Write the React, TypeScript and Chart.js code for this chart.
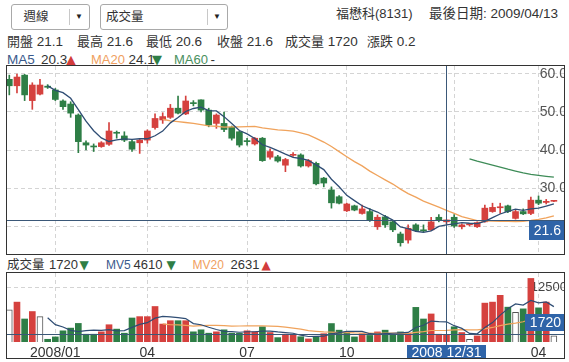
import React, { useEffect, useRef } from 'react';
import { Chart, registerables } from 'chart.js';

Chart.register(...registerables);

// ---------- data (weekly candles) ----------
const OPEN = [
  58.6, 56.9, 59.7, 53.0, 54.7, 56.8, 55.8, 52.9, 52.1, 49.2,
  41.9, 41.0, 40.9, 41.5, 44.5, 43.7, 42.2, 41.9, 42.6, 45.9,
  47.9, 48.6, 51.0, 49.5, 52.4, 53.2, 50.5, 47.0, 47.0, 46.0,
  44.8, 42.3, 41.6, 43.1, 38.1, 38.2, 36.0, 38.6, 38.7, 35.8,
  36.5, 32.6, 29.5, 27.7, 24.0, 25.3, 23.3, 23.8, 19.8, 22.4,
  21.1, 17.9, 16.3, 20.3, 19.0, 19.0, 22.3, 21.1, 22.3, 19.8,
  20.3, 19.8, 21.1, 23.8, 24.8, 25.3, 22.0, 23.8, 23.3, 26.8, 26.2, 26.5,
];
const HIGH = [
  59.7, 60.0, 59.9, 57.7, 58.6, 57.2, 56.2, 53.2, 52.7, 49.5,
  42.4, 41.6, 42.2, 47.2, 45.0, 44.8, 42.6, 42.8, 45.3, 49.5,
  49.8, 52.0, 54.2, 54.2, 53.0, 53.2, 51.0, 49.5, 50.0, 46.3,
  45.0, 43.1, 43.3, 43.3, 40.3, 38.6, 37.8, 39.3, 39.0, 37.5,
  36.8, 32.8, 30.3, 28.0, 26.0, 25.5, 25.5, 24.6, 22.9, 22.8,
  21.3, 18.4, 20.3, 20.6, 20.3, 22.3, 23.0, 21.6, 23.0, 20.6,
  20.6, 21.1, 25.5, 26.0, 26.0, 25.5, 24.3, 24.5, 27.6, 27.9, 27.0, 26.6,
];
const LOW = [
  54.5, 55.0, 53.0, 50.7, 54.5, 56.2, 53.0, 50.7, 48.6, 39.3,
  40.0, 39.6, 40.7, 41.2, 43.1, 42.2, 39.6, 39.1, 41.8, 45.5,
  47.0, 48.3, 49.5, 49.3, 51.6, 50.0, 46.1, 45.7, 44.8, 42.6,
  40.8, 41.3, 41.3, 37.0, 37.6, 36.8, 34.3, 38.3, 35.5, 35.5,
  30.8, 30.3, 24.7, 25.8, 23.8, 24.0, 23.1, 21.2, 19.1, 19.6,
  18.5, 14.7, 15.5, 18.5, 18.5, 18.8, 21.1, 20.6, 19.6, 19.2,
  20.0, 19.6, 21.0, 23.6, 23.3, 23.5, 21.8, 23.0, 23.0, 25.6, 25.8, 26.4,
];
const CLOSE = [
  56.9, 59.2, 54.5, 57.1, 57.1, 56.5, 53.3, 51.4, 49.7, 42.2,
  41.3, 40.8, 41.9, 45.0, 44.4, 42.6, 40.2, 42.6, 45.0, 48.3,
  48.8, 51.0, 49.7, 52.9, 52.2, 50.5, 46.6, 49.2, 45.4, 43.1,
  41.3, 42.2, 43.1, 37.2, 39.6, 37.1, 37.5, 38.8, 35.8, 37.2,
  31.1, 31.3, 26.1, 26.0, 25.8, 24.2, 24.5, 21.6, 22.3, 20.3,
  19.0, 15.6, 19.4, 18.8, 18.7, 21.1, 21.4, 21.6, 20.0, 20.3,
  20.3, 20.9, 24.7, 24.9, 25.0, 23.8, 23.8, 23.2, 26.8, 26.0, 26.5, 26.5,
];
const VOLUME = [
  7340, 9100, 5250, 6950, 5790, 620, 1160, 2550, 3170, 4240,
  1780, 1780, 2320, 3940, 2940, 2010, 5480, 5790, 5790, 8100,
  4090, 4860, 4860, 4860, 2320, 2780, 2010, 2320, 2780, 2010,
  2010, 2550, 2320, 3470, 2160, 1000, 1780, 1600, 1200, 700,
  1200, 1900, 4210, 2700, 2200, 1160, 1900, 1500, 2300, 2700,
  1600, 2300, 2000, 7900, 5250, 6400, 1780, 1720, 3470, 2160,
  620, 1390, 8870, 9100, 10650, 7950, 6790, 7560, 14500, 7790, 9100, 1390,
];
const X_TICKS = [6, 18, 31, 44, 58, 69];
const X_TICK_LABELS = ['2008/01', '04', '07', '10', '2009/01', '04'];
const PRICE_TICKS = [20, 30, 40, 50, 60];
const VOL_TICKS = [12500];
const CROSS_IDX = 57;
const CROSS_DATE = '2008 12/31';
const STOCK_NAME = '福懋科(8131)';
const LAST_DATE = '2009/04/13';
const PERIOD = '週線';
const INDICATOR = '成交量';

// ---------- styles ----------
const FONT = '"Liberation Sans", "Noto Sans CJK TC", sans-serif';
const RED = '#d5413e';
const GREEN = '#2e7e46';
const MA5_C = '#2f4d74';
const MA20_C = '#f0a35c';
const MA60_C = '#3e8c58';
const CROSS_C = '#3b5878';
const BOX_C = '#2f64a8';
const GRID_C = '#d4d4d4';

const X_MIN = -0.3;
const X_MAX = 72.32;

function avgAt(src: number[], n: number, i: number) {
  let s = 0;
  for (let k = i - n + 1; k <= i; k++) s += src[k];
  return s / n;
}
function movingAverage(src: number[], n: number) {
  const out: { x: number; y: number }[] = [];
  for (let i = n; i < src.length; i++) out.push({ x: i, y: avgAt(src, n, i) });
  return out;
}

const candleColor = OPEN.map((o, i) => (CLOSE[i] >= o ? RED : GREEN));
const volDir = CLOSE.map((c, i) => (i === 0 || c === CLOSE[i - 1] ? 0 : c > CLOSE[i - 1] ? 1 : -1));

const zeroPad = (s: any) => {
  s.paddingTop = 0; s.paddingBottom = 0; s.paddingLeft = 0; s.paddingRight = 0;
};
const setXTicks = (s: any) => { s.ticks = X_TICKS.map((v) => ({ value: v })); };

const priceCross = {
  id: 'priceCross',
  afterDraw(chart: any) {
    const { ctx, chartArea: a, scales } = chart;
    const x = Math.round(scales.x.getPixelForValue(CROSS_IDX)) + 0.5;
    const y = Math.round(scales.y.getPixelForValue(CLOSE[CROSS_IDX])) + 0.5;
    ctx.save();
    ctx.strokeStyle = CROSS_C;
    ctx.lineWidth = 1;
    ctx.beginPath();
    ctx.moveTo(x, a.top); ctx.lineTo(x, a.bottom);
    ctx.moveTo(a.left, y); ctx.lineTo(a.right, y);
    ctx.stroke();
    const label = CLOSE[CROSS_IDX].toFixed(1);
    ctx.font = `14px ${FONT}`;
    const w = Math.ceil(ctx.measureText(label).width) + 7;
    ctx.fillStyle = BOX_C;
    ctx.fillRect(a.right - w, y + 0.5, w, 19);
    ctx.fillStyle = '#fff';
    ctx.textAlign = 'right';
    ctx.textBaseline = 'middle';
    ctx.fillText(label, a.right - 3, y + 10.5);
    ctx.restore();
  },
};

const volCross = {
  id: 'volCross',
  afterDraw(chart: any) {
    const { ctx, chartArea: a, scales } = chart;
    const x = Math.round(scales.x.getPixelForValue(CROSS_IDX)) + 0.5;
    const y = Math.round(scales.y.getPixelForValue(VOLUME[CROSS_IDX])) + 0.5;
    ctx.save();
    ctx.strokeStyle = CROSS_C;
    ctx.lineWidth = 1;
    ctx.beginPath();
    ctx.moveTo(x, a.top); ctx.lineTo(x, a.bottom + 4);
    ctx.moveTo(a.left, y); ctx.lineTo(a.right, y);
    ctx.stroke();
    ctx.font = `14px ${FONT}`;
    const label = String(VOLUME[CROSS_IDX]);
    const w = Math.ceil(ctx.measureText(label).width) + 7;
    ctx.fillStyle = BOX_C;
    ctx.fillRect(a.right - w, y - 20.5, w, 17);
    ctx.fillStyle = '#fff';
    ctx.textAlign = 'right';
    ctx.textBaseline = 'middle';
    ctx.fillText(label, a.right - 3, y - 11.5);
    const dw = Math.ceil(ctx.measureText(CROSS_DATE).width) + 8;
    ctx.fillStyle = BOX_C;
    ctx.fillRect(Math.round(x - dw / 2), a.bottom + 3, dw, 17);
    ctx.fillStyle = '#fff';
    ctx.textAlign = 'center';
    ctx.fillText(CROSS_DATE, x, a.bottom + 11);
    ctx.restore();
  },
};

function xScale(showLabels: boolean, height: number) {
  return {
    type: 'linear',
    min: X_MIN,
    max: X_MAX,
    offset: false,
    afterBuildTicks: setXTicks,
    afterFit: (s: any) => { s.height = height; zeroPad(s); },
    grid: { color: GRID_C, drawTicks: false, offset: false, lineWidth: 1 },
    border: { display: false, dash: [4, 3] },
    ticks: {
      display: showLabels,
      autoSkip: false,
      maxRotation: 0,
      minRotation: 0,
      padding: 3,
      color: '#333',
      font: { family: FONT, size: 14 },
      callback: (v: number) => {
        const k = X_TICKS.indexOf(v);
        return k >= 0 ? X_TICK_LABELS[k] : '';
      },
    },
  };
}

const UP_C = '#d23c3c';
const DOWN_C = '#2e7e46';

export default function App() {
  const priceRef = useRef<HTMLCanvasElement>(null);
  const volRef = useRef<HTMLCanvasElement>(null);

  useEffect(() => {
    const price = new Chart(priceRef.current as HTMLCanvasElement, {
      type: 'bar',
      data: {
        datasets: [
          { type: 'line', data: movingAverage(CLOSE, 5), borderColor: MA5_C, borderWidth: 1.3, pointRadius: 0, fill: false, order: 0 },
          { type: 'line', data: movingAverage(CLOSE, 20), borderColor: MA20_C, borderWidth: 1.3, pointRadius: 0, fill: false, order: 0 },
          { type: 'line', data: movingAverage(CLOSE, 60), borderColor: MA60_C, borderWidth: 1.3, pointRadius: 0, fill: false, order: 0 },
          {
            type: 'bar',
            data: OPEN.map((o, i) => ({ x: i, y: [o, CLOSE[i]] })),
            backgroundColor: candleColor,
            barThickness: 6,
            minBarLength: 1,
            grouped: false,
            borderWidth: 0,
            order: 1,
          },
          {
            type: 'bar',
            data: LOW.map((l, i) => ({ x: i, y: [l, HIGH[i]] })),
            backgroundColor: candleColor,
            barThickness: 1,
            grouped: false,
            borderWidth: 0,
            order: 2,
          },
        ] as any,
      },
      options: {
        animation: false,
        responsive: false,
        maintainAspectRatio: false,
        events: [],
        layout: { padding: 0 },
        plugins: { legend: { display: false }, tooltip: { enabled: false } },
        scales: {
          x: xScale(false, 0) as any,
          y: {
            position: 'right',
            min: 12.632,
            max: 62.105,
            afterBuildTicks: (s: any) => { s.ticks = PRICE_TICKS.map((v) => ({ value: v })); },
            afterFit: (s: any) => { s.width = 0; zeroPad(s); },
            grid: { color: GRID_C, drawTicks: false, lineWidth: 1 },
            border: { display: false, dash: [4, 3] },
            ticks: {
              mirror: true,
              padding: 3,
              color: '#555',
              font: { family: FONT, size: 14 },
              callback: (v: number) => v.toFixed(1),
            },
          } as any,
        },
      },
      plugins: [priceCross],
    });

    const vol = new Chart(volRef.current as HTMLCanvasElement, {
      type: 'bar',
      data: {
        datasets: [
          { type: 'line', data: movingAverage(VOLUME, 5), borderColor: MA5_C, borderWidth: 1.2, pointRadius: 0, fill: false, order: 0 },
          { type: 'line', data: movingAverage(VOLUME, 20), borderColor: MA20_C, borderWidth: 1.2, pointRadius: 0, fill: false, order: 0 },
          {
            type: 'bar',
            data: VOLUME.map((v, i) => ({ x: i, y: v })),
            backgroundColor: volDir.map((d) => (d > 0 ? RED : d < 0 ? GREEN : '#ffffff')),
            borderColor: volDir.map((d) => (d === 0 ? '#555555' : 'rgba(0,0,0,0)')),
            borderWidth: volDir.map((d) => (d === 0 ? 1 : 0)),
            borderSkipped: 'bottom',
            barThickness: 6,
            grouped: false,
            order: 1,
          },
        ] as any,
      },
      options: {
        animation: false,
        responsive: false,
        maintainAspectRatio: false,
        events: [],
        layout: { padding: 0 },
        plugins: { legend: { display: false }, tooltip: { enabled: false } },
        scales: {
          x: xScale(true, 16) as any,
          y: {
            position: 'right',
            min: 0,
            max: 15741,
            z: 1,
            afterBuildTicks: (s: any) => { s.ticks = VOL_TICKS.map((v) => ({ value: v })); },
            afterFit: (s: any) => { s.width = 0; zeroPad(s); },
            grid: { color: GRID_C, drawTicks: false, lineWidth: 1 },
            border: { display: false, dash: [4, 3] },
            ticks: {
              mirror: true,
              padding: 3,
              color: '#444',
              font: { family: FONT, size: 13 },
              callback: (v: number) => String(v),
            },
          } as any,
        },
      },
      plugins: [volCross],
    });

    return () => {
      price.destroy();
      vol.destroy();
    };
  }, []);

  const ci = CROSS_IDX;
  const ma5 = avgAt(CLOSE, 5, ci);
  const ma5p = avgAt(CLOSE, 5, ci - 1);
  const ma20 = avgAt(CLOSE, 20, ci);
  const ma20p = avgAt(CLOSE, 20, ci - 1);
  const mv5 = avgAt(VOLUME, 5, ci);
  const mv5p = avgAt(VOLUME, 5, ci - 1);
  const mv20 = avgAt(VOLUME, 20, ci);
  const mv20p = avgAt(VOLUME, 20, ci - 1);
  const change = CLOSE[ci] - CLOSE[ci - 1];

  const T = (left: number, top: number, text: any, style: any = {}) => (
    <span style={{ position: 'absolute', left, top, whiteSpace: 'nowrap', lineHeight: '16px', fontSize: 13, ...style }}>{text}</span>
  );
  const Arrow = (left: number, top: number, up: boolean, size = 12) =>
    T(left, top, up ? '▲' : '▼', { color: up ? UP_C : DOWN_C, fontSize: size, fontFamily: '"DejaVu Sans", sans-serif' });

  // header line 2 (values for the crosshair week)
  const line2: [string, string, number][] = [
    ['開盤', OPEN[ci].toFixed(1), 7],
    ['最高', HIGH[ci].toFixed(1), 77],
    ['最低', LOW[ci].toFixed(1), 146],
    ['收盤', CLOSE[ci].toFixed(1), 217],
    ['成交量', String(VOLUME[ci]), 285],
    ['漲跌', change.toFixed(1), 367],
  ];

  return (
    <div style={{ position: 'fixed', left: 0, top: 0, width: 569, height: 362, background: '#fff', fontFamily: FONT, color: '#333', overflow: 'hidden' }}>
      {/* dropdowns */}
      <div style={{ position: 'absolute', left: 11, top: 4, width: 79, height: 26, border: '1px solid #a9a9a9', borderRadius: 3, boxSizing: 'border-box', background: '#fff' }}>
        {T(11.5, 4, PERIOD, { fontSize: 12.5 })}
        <div style={{ position: 'absolute', left: 57, top: 4, width: 1, height: 16, background: '#c8c8c8' }} />
        {T(63, 4, '▼', { fontSize: 8, color: '#222' })}
      </div>
      <div style={{ position: 'absolute', left: 100, top: 4, width: 128, height: 26, border: '1px solid #a9a9a9', borderRadius: 3, boxSizing: 'border-box', background: '#fff' }}>
        {T(5, 4, INDICATOR, { fontSize: 12.5 })}
        <div style={{ position: 'absolute', left: 106, top: 4, width: 1, height: 16, background: '#c8c8c8' }} />
        {T(112, 4, '▼', { fontSize: 8, color: '#222' })}
      </div>
      {T(336, 6, STOCK_NAME, { fontSize: 13 })}
      <span style={{ position: 'absolute', right: 11, top: 6, whiteSpace: 'nowrap', lineHeight: '16px', fontSize: 13.5 }}>最後日期: {LAST_DATE}</span>

      {line2.map(([k, v, left]) => (
        <span key={k} style={{ position: 'absolute', left, top: 34, whiteSpace: 'nowrap', lineHeight: '16px', fontSize: 13.5 }}>
          <span style={{ fontSize: 13 }}>{k}</span> {v}
        </span>
      ))}

      {T(7, 52, 'MA5', { color: '#3a5a8c', fontSize: 13.5 })}
      {T(41, 52, ma5.toFixed(1), { fontSize: 13.5 })}
      {Arrow(66, 52, ma5 >= ma5p, 13)}
      {T(91, 52, 'MA20', { color: '#f0a060', fontSize: 13 })}
      {T(128.5, 52, ma20.toFixed(1), { fontSize: 13.5 })}
      {Arrow(152, 52, ma20 >= ma20p, 13)}
      {T(174, 52, 'MA60', { color: '#4a9060', fontSize: 13 })}
      {T(210.5, 52, '-', { fontSize: 13.5 })}

      {/* price panel */}
      <div style={{ position: 'absolute', left: 6, top: 65, width: 559, height: 190, border: '1px solid #333', boxSizing: 'border-box' }}>
        <canvas ref={priceRef} width={557} height={188} style={{ display: 'block', width: 557, height: 188 }} />
      </div>

      {/* volume legend */}
      {T(7, 257, '成交量', { fontSize: 12.5 })}
      {T(49, 257, String(VOLUME[ci]))}
      {Arrow(79.5, 257, VOLUME[ci] >= VOLUME[ci - 1])}
      {T(106, 257, 'MV5', { color: '#3a5a8c', fontSize: 12 })}
      {T(133.5, 257, String(Math.floor(mv5)))}
      {Arrow(166.5, 257, mv5 >= mv5p)}
      {T(192.5, 257, 'MV20', { color: '#f0a060', fontSize: 12 })}
      {T(230.5, 257, String(Math.floor(mv20)))}
      {Arrow(261.5, 257, mv20 >= mv20p)}

      {/* volume panel */}
      <div style={{ position: 'absolute', left: 6, top: 272, width: 559, height: 87, border: '1px solid #333', boxSizing: 'border-box' }}>
        <canvas ref={volRef} width={557} height={85} style={{ display: 'block', width: 557, height: 85 }} />
      </div>
    </div>
  );
}
